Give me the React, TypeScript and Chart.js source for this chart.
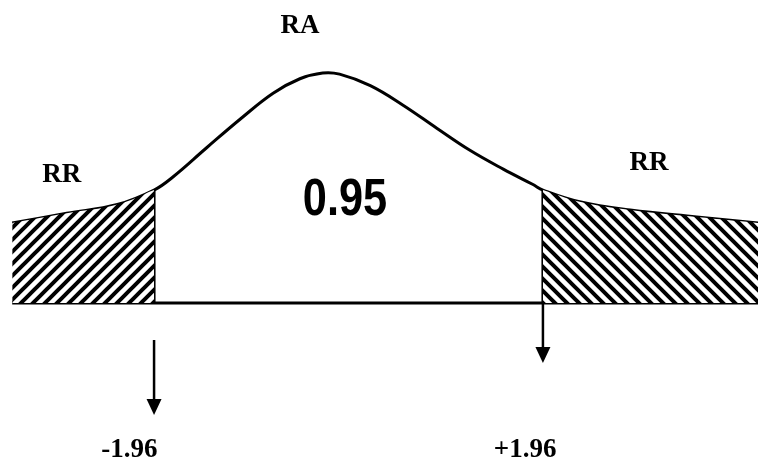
import React, { useEffect, useRef } from "react";
import { Chart, registerables } from "chart.js";

Chart.register(...registerables);

// Standardised value (z) and relative curve height (peak = 1)
const curveZ = [-3.39, -2.84, -2.33, -1.96, -1.77, -1.43, -1.09, -0.76, -0.49, -0.26, -0.09, 0.22, 0.55, 0.89, 1.22, 1.56, 1.86, 1.96, 2.33, 2.84, 3.51, 4.13];
const curveH = [0.348, 0.39, 0.428, 0.491, 0.548, 0.675, 0.8, 0.912, 0.975, 1.0, 0.995, 0.945, 0.86, 0.76, 0.665, 0.582, 0.515, 0.491, 0.44, 0.404, 0.374, 0.348];

const criticalValues = [-1.96, 1.96];
const criticalLabels = ["-1.96", "+1.96"];
const centreLabel = "0.95";
const acceptLabel = "RA";
const rejectLabel = "RR";

// arrows: z, start height, tip height
const arrowZ = [-1.96, 1.96];
const arrowFrom = [-0.161, 0];
const arrowTo = [-0.487, -0.261];

function hatch(dir: number): CanvasPattern | string {
  const s = 12;
  const c = document.createElement("canvas");
  c.width = s;
  c.height = s;
  const g = c.getContext("2d");
  if (!g) return "#000";
  g.fillStyle = "#fff";
  g.fillRect(0, 0, s, s);
  g.strokeStyle = "#000";
  g.lineWidth = 4;
  g.lineCap = "square";
  g.beginPath();
  if (dir > 0) {
    g.moveTo(-2, s + 2); g.lineTo(s + 2, -2);
    g.moveTo(-2, 2); g.lineTo(2, -2);
    g.moveTo(s - 2, s + 2); g.lineTo(s + 2, s - 2);
  } else {
    g.moveTo(-2, -2); g.lineTo(s + 2, s + 2);
    g.moveTo(-2, s - 2); g.lineTo(2, s + 2);
    g.moveTo(s - 2, -2); g.lineTo(s + 2, 2);
  }
  g.stroke();
  return g.createPattern(c, "repeat") || "#000";
}

export default function App() {
  const ref = useRef<HTMLCanvasElement | null>(null);

  useEffect(() => {
    if (!ref.current) return;
    const pts = curveZ.map((z, i) => ({ x: z, y: curveH[i] }));
    const leftTail = pts.filter((p) => p.x <= criticalValues[0] + 1e-9);
    const rightTail = pts.filter((p) => p.x >= criticalValues[1] - 1e-9);
    const hL = leftTail[leftTail.length - 1].y;
    const hR = rightTail[0].y;
    const zMinCurve = curveZ[0];
    const zMaxCurve = curveZ[curveZ.length - 1];

    const annot = {
      id: "annot",
      afterDatasetsDraw(chart: any) {
        const { ctx, scales } = chart;
        const x = scales.x;
        const y = scales.y;
        ctx.save();
        ctx.fillStyle = "#000";
        ctx.strokeStyle = "#000";
        arrowZ.forEach((z, i) => {
          const px = x.getPixelForValue(z);
          const y1 = y.getPixelForValue(arrowFrom[i]);
          const y2 = y.getPixelForValue(arrowTo[i]);
          const head = 16;
          ctx.lineWidth = 2.5;
          ctx.beginPath();
          ctx.moveTo(px, y1);
          ctx.lineTo(px, y2 - head + 1);
          ctx.stroke();
          ctx.beginPath();
          ctx.moveTo(px - 7.5, y2 - head);
          ctx.lineTo(px + 7.5, y2 - head);
          ctx.lineTo(px, y2);
          ctx.closePath();
          ctx.fill();
        });
        ctx.font = 'bold 27px "Liberation Serif", "Times New Roman", serif';
        ctx.textAlign = "center";
        ctx.textBaseline = "alphabetic";
        ctx.fillText(acceptLabel, x.getPixelForValue(-0.49), y.getPixelForValue(1.174));
        ctx.fillText(rejectLabel, x.getPixelForValue(-2.89), y.getPixelForValue(0.526));
        ctx.fillText(rejectLabel, x.getPixelForValue(3.03), y.getPixelForValue(0.578));
        ctx.fillText(criticalLabels[0], x.getPixelForValue(-2.21), y.getPixelForValue(-0.67));
        ctx.fillText(criticalLabels[1], x.getPixelForValue(1.78), y.getPixelForValue(-0.67));
        const cx = x.getPixelForValue(-0.035);
        const cy = y.getPixelForValue(0.383);
        ctx.translate(cx, cy);
        ctx.scale(0.85, 1);
        ctx.font = 'bold 51px "Liberation Sans", Arial, sans-serif';
        ctx.fillText(centreLabel, 0, 0);
        ctx.restore();
      },
    };

    const lineBase = {
      showLine: true,
      borderColor: "#000",
      borderWidth: 3,
      pointRadius: 0,
      fill: false,
    };

    const chart = new Chart(ref.current, {
      type: "scatter",
      data: {
        datasets: [
          {
            data: leftTail,
            showLine: true,
            borderWidth: 0,
            borderColor: "rgba(0,0,0,0)",
            backgroundColor: hatch(1) as any,
            fill: "origin",
            pointRadius: 0,
            tension: 0.4,
          },
          {
            data: rightTail,
            showLine: true,
            borderWidth: 0,
            borderColor: "rgba(0,0,0,0)",
            backgroundColor: hatch(-1) as any,
            fill: "origin",
            pointRadius: 0,
            tension: 0.4,
          },
          { ...lineBase, data: pts, tension: 0.4 },
          { ...lineBase, data: [{ x: zMinCurve, y: 0 }, { x: zMaxCurve, y: 0 }] },
          { ...lineBase, data: [{ x: criticalValues[0], y: 0 }, { x: criticalValues[0], y: hL }] },
          { ...lineBase, data: [{ x: criticalValues[1], y: hR }, { x: criticalValues[1], y: 0 }] },
        ],
      },
      options: {
        responsive: false,
        animation: false,
        events: [],
        layout: { padding: 0 },
        scales: {
          x: { type: "linear", min: -3.513, max: 4.128, display: false },
          y: { type: "linear", min: -0.687, max: 1.3174, display: false },
        },
        plugins: { legend: { display: false }, tooltip: { enabled: false } },
      },
      plugins: [annot],
    });
    return () => chart.destroy();
  }, []);

  return (
    <div style={{ position: "absolute", left: 0, top: 0, width: 758, height: 461, background: "#fff" }}>
      <canvas ref={ref} width={758} height={461} style={{ display: "block" }} />
    </div>
  );
}
